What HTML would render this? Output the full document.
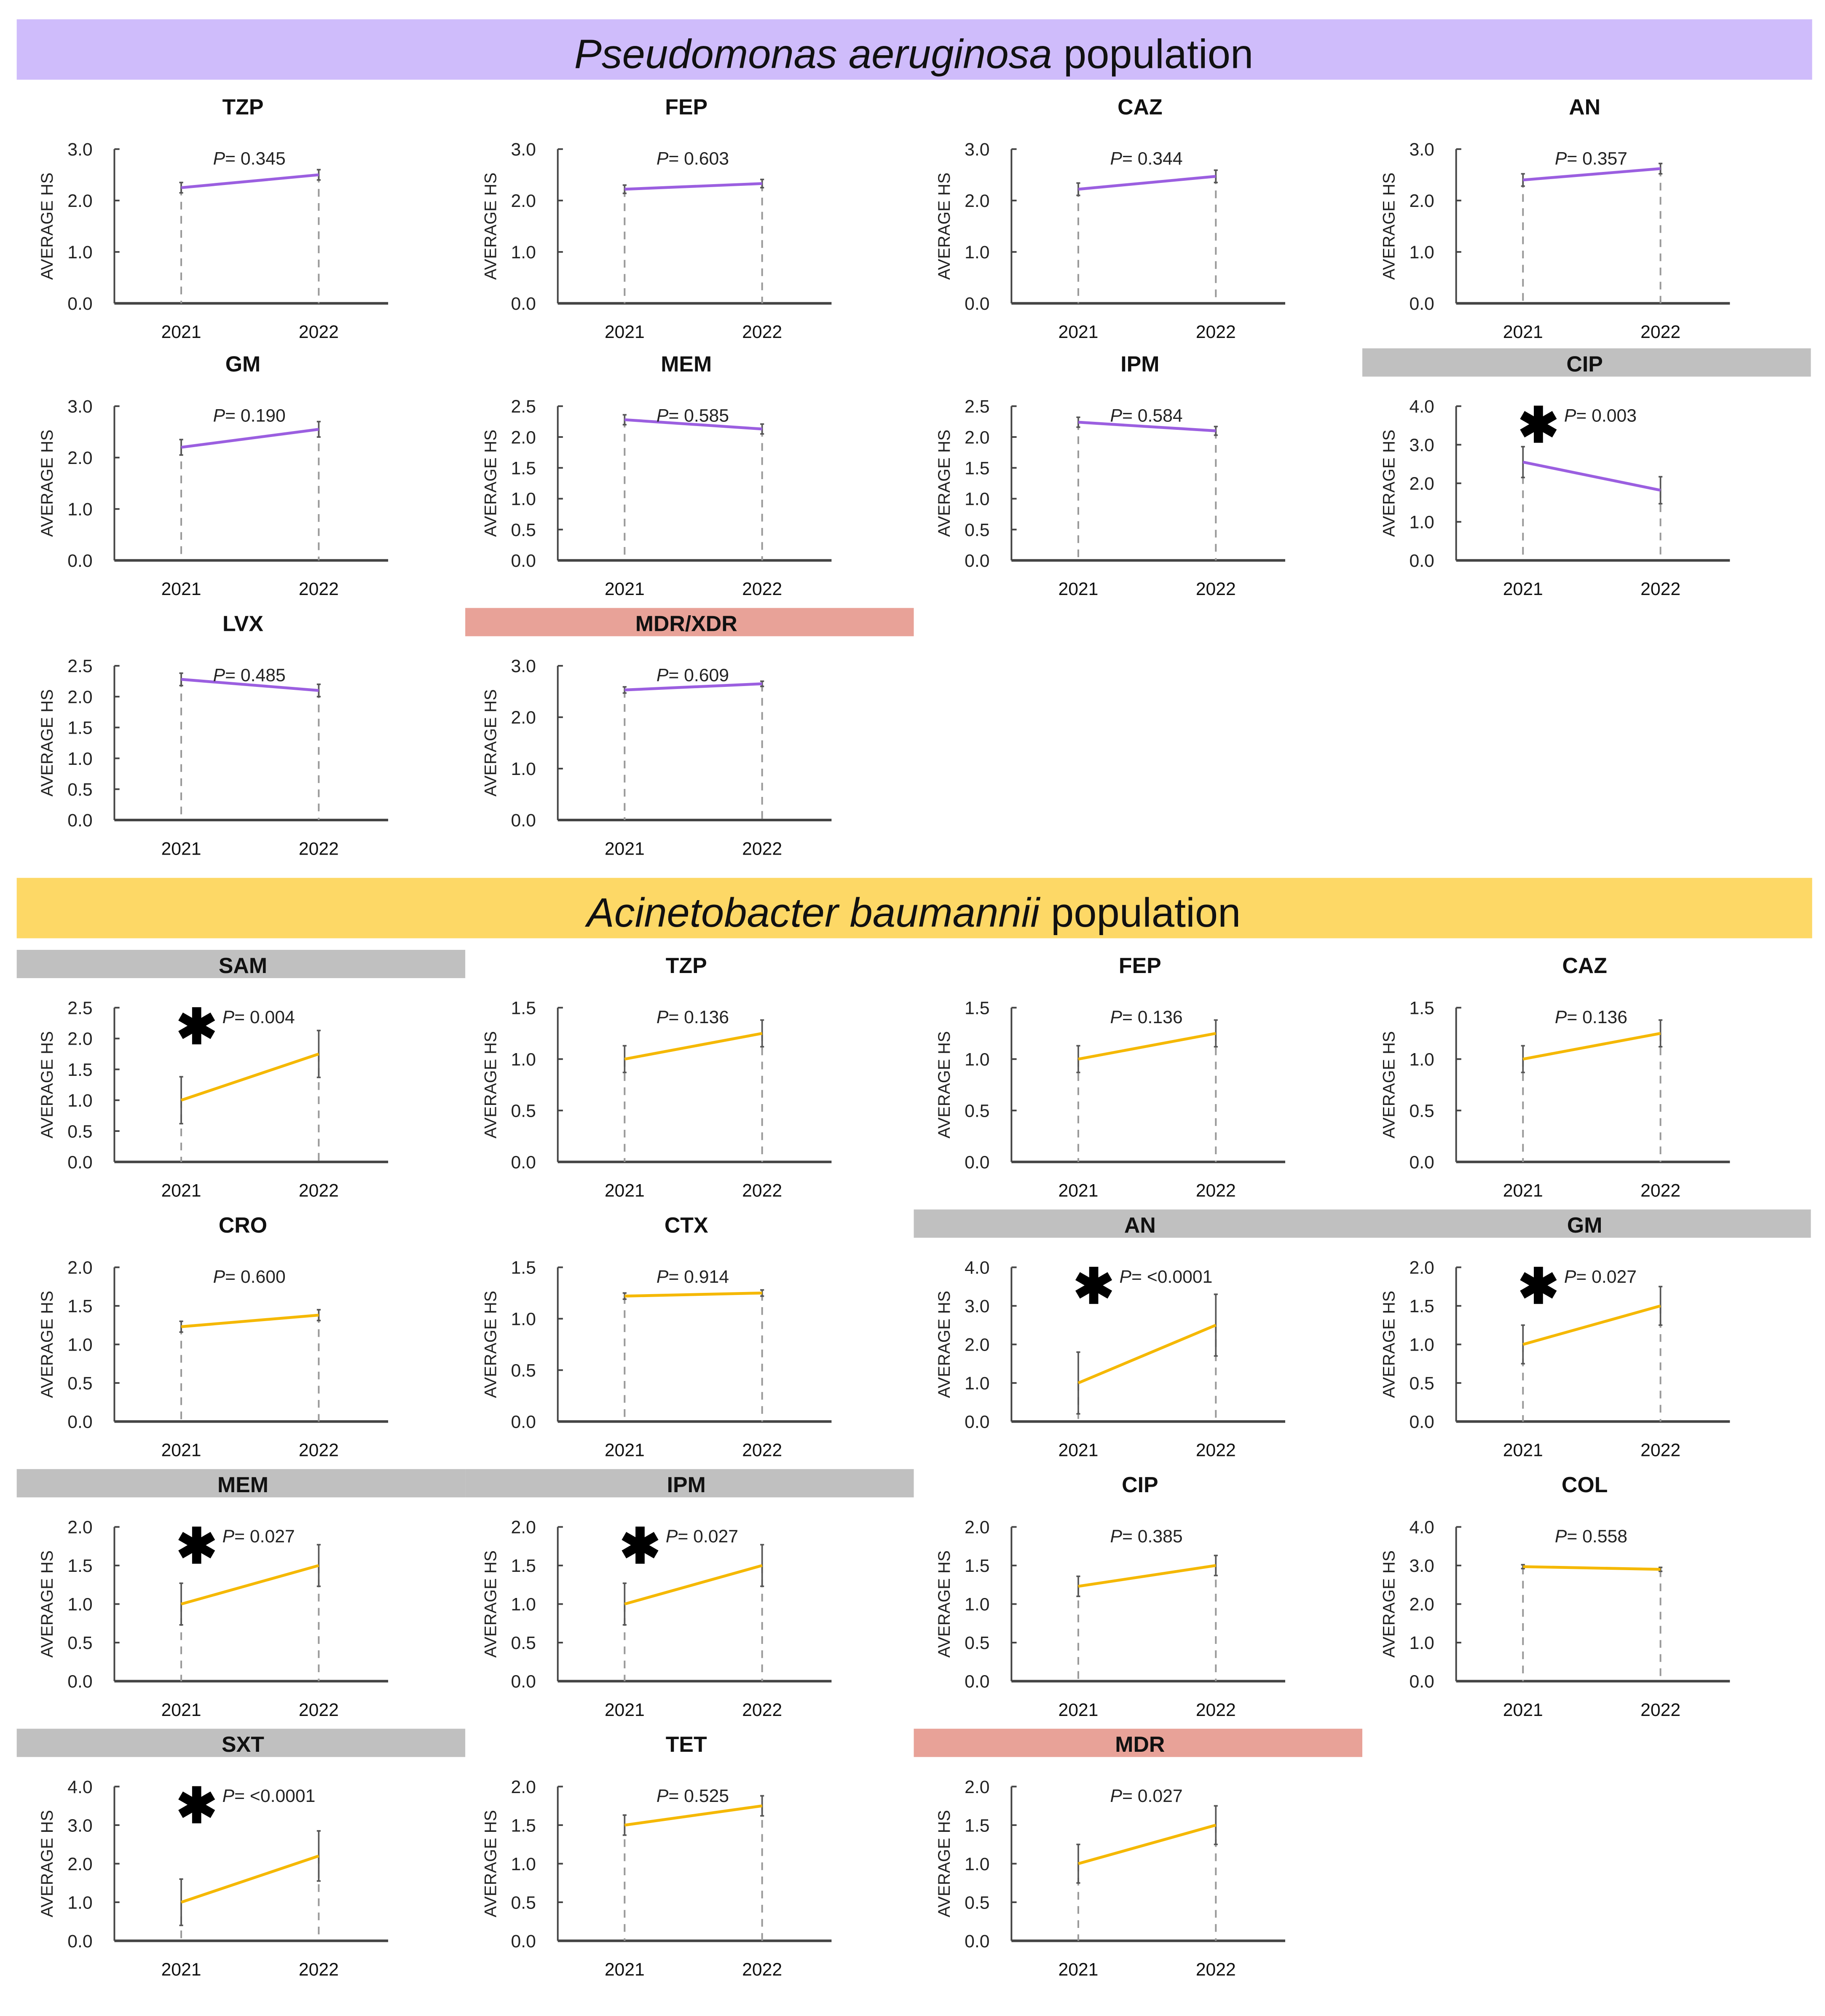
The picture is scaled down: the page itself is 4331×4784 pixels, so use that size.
<!DOCTYPE html>
<html><head><meta charset="utf-8">
<style>
html,body{margin:0;padding:0;background:#fff;}
svg{display:block;}
text{font-family:"Liberation Sans",Arial,sans-serif;}
</style></head>
<body>
<svg id="fig" xmlns="http://www.w3.org/2000/svg" width="4331" height="4784" viewBox="0 0 1420 1568.5">
<rect x="0" y="0" width="1420" height="1568.5" fill="#fff"/>
<rect x="13" y="15" width="1397" height="47" fill="#cfbcfb"/>
<text x="711" y="53" font-size="32" text-anchor="middle" fill="#111"><tspan font-style="italic">Pseudomonas aeruginosa</tspan>  population</text>
<rect x="13" y="683" width="1397" height="47" fill="#fdd866"/>
<text x="711" y="721" font-size="32" text-anchor="middle" fill="#111"><tspan font-style="italic">Acinetobacter baumannii</tspan>  population</text>
<g id="panels"></g>
</svg>
<script>
// ---- chart data ----
const panelNames = ["TZP","FEP","CAZ","AN","GM","MEM","IPM","CIP","LVX","MDR/XDR",
  "SAM","TZP","FEP","CAZ","CRO","CTX","AN","GM","MEM","IPM","CIP","COL","SXT","TET","MDR"];
const yMaxes = [3,3,3,3,3,2.5,2.5,4,2.5,3, 2.5,1.5,1.5,1.5,2,1.5,4,2,2,2,2,4,4,2,2];
const tickSteps = [1,1,1,1,1,0.5,0.5,1,0.5,1, 0.5,0.5,0.5,0.5,0.5,0.5,1,0.5,0.5,0.5,0.5,1,1,0.5,0.5];
const values2021 = [2.25,2.22,2.22,2.4,2.2,2.28,2.24,2.55,2.28,2.53, 1.0,1.0,1.0,1.0,1.23,1.22,1.0,1.0,1.0,1.0,1.23,2.97,1.0,1.5,1.0];
const values2022 = [2.5,2.33,2.47,2.62,2.55,2.13,2.1,1.82,2.1,2.65, 1.75,1.25,1.25,1.25,1.38,1.25,2.5,1.5,1.5,1.5,1.5,2.9,2.2,1.75,1.5];
const err2021 = [0.1,0.08,0.12,0.12,0.15,0.08,0.08,0.4,0.1,0.06, 0.38,0.13,0.13,0.13,0.07,0.03,0.8,0.25,0.27,0.27,0.13,0.05,0.6,0.13,0.25];
const err2022 = [0.1,0.08,0.12,0.1,0.15,0.08,0.07,0.35,0.1,0.05, 0.38,0.13,0.13,0.13,0.07,0.03,0.8,0.25,0.27,0.27,0.13,0.05,0.65,0.13,0.25];
const pLabels = ["0.345","0.603","0.344","0.357","0.190","0.585","0.584","0.003","0.485","0.609",
  "0.004","0.136","0.136","0.136","0.600","0.914","<0.0001","0.027","0.027","0.027","0.385","0.558","<0.0001","0.525","0.027"];
const significant = [0,0,0,0,0,0,0,1,0,0, 1,0,0,0,0,0,1,1,1,1,0,0,1,0,0];
const titleStyle = ["n","n","n","n","n","n","n","g","n","p", "g","n","n","n","n","n","g","g","g","g","n","n","g","n","p"];
const species = ["pa","pa","pa","pa","pa","pa","pa","pa","pa","pa","ab","ab","ab","ab","ab","ab","ab","ab","ab","ab","ab","ab","ab","ab","ab"];
const years = ["2021","2022"];
// ---- layout (not data) ----
const colX = [0,345,698,1044];
const barX = [13,362,711,1060];
const rowTitleY = [83,283,485,751,953,1155,1357];
const panelCol = [0,1,2,3,0,1,2,3,0,1, 0,1,2,3,0,1,2,3,0,1,2,3,0,1,2];
const panelRow = [0,0,0,0,1,1,1,1,2,2, 3,3,3,3,4,4,4,4,5,5,5,5,6,6,6];

const NS = "http://www.w3.org/2000/svg";
const root = document.getElementById("panels");
function mk(tag, attrs, parent){const e=document.createElementNS(NS,tag);for(const k in attrs)e.setAttribute(k,attrs[k]);(parent||root).appendChild(e);return e;}

panelNames.forEach((name,i)=>{
  const x0 = colX[panelCol[i]], ty = rowTitleY[panelRow[i]];
  const g = mk("g",{});
  
  
  if(titleStyle[i] !== "n"){
    const r = mk("rect",{x:barX[panelCol[i]],y:ty-12,width:349,height:22,fill:titleStyle[i]==="g"?"#c0c0c0":"#e8a298"},g);
    
    
  }
  const t = mk("text",{x:x0+189,y:ty+6,"font-size":17,"font-weight":"bold","text-anchor":"middle",fill:"#111"},g);
  
  
  t.textContent = name;
  const ax = x0+89, axEnd = x0+302, top = ty+33, bot = ty+153;
  const xs = [x0+141, x0+248];
  const yS = v => bot - (v/yMaxes[i])*(bot-top);
  const yAxis = mk("line",{x1:ax,y1:top,x2:ax,y2:bot,stroke:"#444","stroke-width":1.3},g);
  
  
  const xAxis = mk("line",{x1:ax,y1:bot,x2:axEnd,y2:bot,stroke:"#444","stroke-width":2},g);
  
  
  const n = Math.round(yMaxes[i]/tickSteps[i]);
  for(let k=0;k<=n;k++){
    const v = k*tickSteps[i], y = yS(v);
    mk("line",{x1:ax,y1:y,x2:ax+4,y2:y,stroke:"#444","stroke-width":1.3},g);
    const tl = mk("text",{x:ax-17,y:y+5,"font-size":14,"text-anchor":"end",fill:"#222"},g);
    
    
    tl.textContent = v.toFixed(1);
  }
  const yl = mk("text",{x:0,y:0,"font-size":13,"text-anchor":"middle",fill:"#222",transform:`translate(${x0+41},${(top+bot)/2}) rotate(-90)`},g);
  
  
  yl.textContent = "AVERAGE HS";
  const vals = [values2021[i], values2022[i]], errs=[err2021[i],err2022[i]];
  years.forEach((yr,j)=>{
    const d = mk("line",{x1:xs[j],y1:yS(vals[j]),x2:xs[j],y2:bot,stroke:"#999","stroke-width":1.3,"stroke-dasharray":"6,5"},g);
    
    
    const e = mk("path",{d:`M${xs[j]},${yS(vals[j]+errs[j])}V${yS(Math.max(0,vals[j]-errs[j]))}M${xs[j]-1.5},${yS(vals[j]+errs[j])}h3M${xs[j]-1.5},${yS(Math.max(0,vals[j]-errs[j]))}h3`,stroke:"#555","stroke-width":1.2,fill:"none"},g);
    
    
    const xl = mk("text",{x:xs[j],y:bot+27,"font-size":14,"text-anchor":"middle",fill:"#111"},g);
    
    
    xl.textContent = yr;
  });
  const ln = mk("line",{x1:xs[0],y1:yS(vals[0]),x2:xs[1],y2:yS(vals[1]),stroke:species[i]==="pa"?"#9b5fe0":"#f5b800","stroke-width":2.2},g);
  
  
  const pY = top+12;
  if(significant[i]){
    const s = mk("text",{x:x0+153,y:pY+16,"font-size":38,"font-weight":"bold","text-anchor":"middle",fill:"#000"},g);
    
    
    s.textContent = "\u2731";
  }
  const p = mk("text",{x:significant[i]?x0+173:x0+194,y:pY,"font-size":14,"text-anchor":significant[i]?"start":"middle",fill:"#222"},g);
  
  
  p.innerHTML = '<tspan font-style="italic">P</tspan>= ' + pLabels[i].replace('<','&lt;');
});
</script>
</body></html>
